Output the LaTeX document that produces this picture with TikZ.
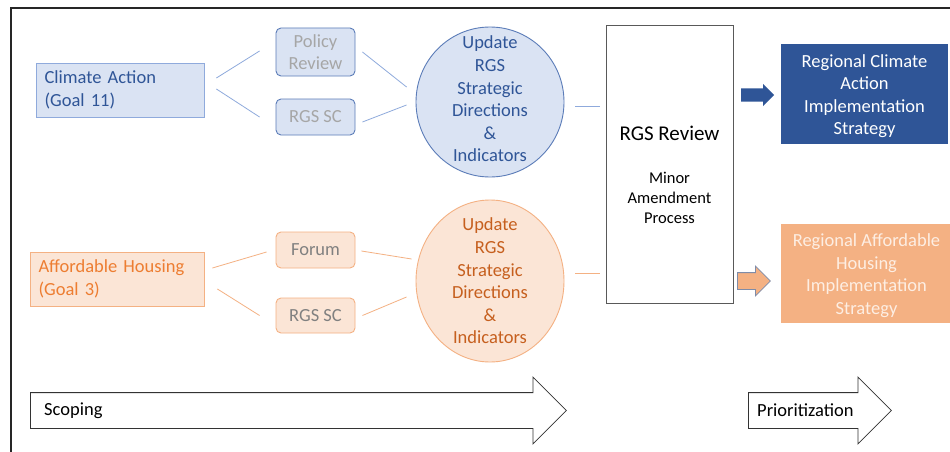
\documentclass[tikz,border=0pt]{standalone}
\usepackage{fontspec}
\setmainfont{Carlito}
\usetikzlibrary{shapes.geometric,shapes.arrows}
\definecolor{bluefill}{HTML}{DAE3F3}
\definecolor{blueline}{HTML}{8FAADC}
\definecolor{blueedge}{HTML}{5B7CB8}
\definecolor{bluetext}{HTML}{2F5597}
\definecolor{bluedark}{HTML}{2F5597}
\definecolor{orangefill}{HTML}{FBE5D6}
\definecolor{orangeline}{HTML}{F4B183}
\definecolor{orangetext}{HTML}{ED7D31}
\definecolor{orangedark}{HTML}{C65F1E}
\definecolor{orangelight}{HTML}{FDEEE3}
\definecolor{arrowedge}{HTML}{7F8CA8}
\colorlet{greytext}{black!35}
\colorlet{forumtext}{black!50}
\colorlet{reviewedge}{black!65}
\newcommand\diafont{\fontsize{18.5pt}{22.6pt}\selectfont}

\begin{document}
\begin{tikzpicture}[x=1pt,y=-1pt,
    txt/.style={font=\diafont, align=center, inner sep=0pt},
    goalbox/.style={draw, line width=0.8pt, minimum height=54pt, inner xsep=8.5pt, inner ysep=0pt, align=left, font=\diafont},
    subbox/.style={draw=blueedge, fill=bluefill, rounded corners=5pt, line width=0.9pt, minimum width=79pt, inner sep=0pt, font=\diafont, align=center, text=greytext},
    updell/.style={ellipse, line width=0.9pt, minimum width=148pt, inner sep=0pt},
    stratbox/.style={minimum height=100pt, inner sep=0pt, align=center, font=\diafont},
    phase/.style={single arrow, draw=black!80, fill=white, line width=0.8pt, inner sep=0pt, single arrow head extend=15.5pt, anchor=tail},
    link/.style={line width=0.8pt}]
    \fill[white] (0,0) rectangle (950,452);
    \useasboundingbox (0,0) rectangle (950,452);
    \draw[line width=2pt, black!85] (950,8) -- (11,8) -- (11,452);

    % climate action row
    \node[goalbox, draw=blueline, fill=bluefill, text=bluetext, text width=151pt] (climate) at (120,90) {Climate Action\\(Goal 11)};
    \node[subbox, minimum height=48pt] (policy) at (315.5,52) {Policy\\Review};
    \node[subbox, minimum height=36pt] (sccl) at (315.5,117) {RGS SC};

    % affordable housing row
    \node[goalbox, draw=orangeline, fill=orangefill, text=orangetext, text width=157pt] (housing) at (117,279) {Affordable Housing\\(Goal 3)};
    \node[subbox, draw=orangeline, fill=orangefill, text=forumtext, minimum height=36pt] (forum) at (315.5,250) {Forum};
    \node[subbox, draw=orangeline, fill=orangefill, text=forumtext, minimum height=35pt] (scho) at (315.5,315.5) {RGS SC};

    \foreach \n/\y/\h/\ty/\fc/\dc/\tc in {cl/102/150/3/bluefill/blueedge/bluetext, ho/281/162/0/orangefill/orangeline/orangedark}{
        \node[updell, fill=\fc, draw=\dc, minimum height=\h pt] (upd\n) at (490,\y) {};
        \node[txt, text=\tc] at ([yshift=\ty pt]upd\n) {Update\\RGS\\Strategic\\Directions\\\&\\Indicators};
    }

    % review box
    \node[draw=reviewedge, line width=0.9pt, minimum width=127pt, minimum height=278pt] (review) at (669.5,164) {};
    \node[font=\fontsize{21pt}{25pt}\selectfont, inner sep=0pt] (revtitle) at (669.5,133) {RGS Review};
    \node[font=\fontsize{16.5pt}{20pt}\selectfont, align=center, inner sep=0pt] (revsteps) at (669.5,198) {Minor\\Amendment\\Process};

    % strategies
    \node[stratbox, fill=bluedark, text=white, minimum width=167pt] (clstrat) at (864.5,94) {\rule{0pt}{17pt}Regional Climate\\Action\\Implementation\\Strategy};
    \node[stratbox, fill=orangeline, text=orangelight, minimum width=171pt, minimum height=99pt] (hostrat) at (866.5,273.5) {\rule{0pt}{17pt}Regional Affordable\\Housing\\Implementation\\Strategy};
    \node[single arrow, fill=bluedark, inner sep=0pt, minimum height=33pt, single arrow head extend=4.5pt, anchor=tail] (clarrow) at (741,95) {\rule{0pt}{13pt}};
    \node[single arrow, fill=orangeline, draw=arrowedge, line width=0.8pt, inner sep=0pt, minimum height=33pt, single arrow head extend=6.5pt, anchor=tail] (hoarrow) at (737,281) {\rule{0pt}{16pt}};

    % connectors
    \draw[link, blueline] ([xshift=12pt,yshift=12pt]climate.east) -- ([xshift=-16pt,yshift=1pt]policy.west);
    \draw[link, blueline] ([xshift=12pt,yshift=1pt]climate.east) -- ([xshift=-16pt]sccl.west);
    \draw[link, blueline] ([xshift=7pt]policy.east) -- ([xshift=-9pt,yshift=15pt]updcl.west);
    \draw[link, blueline] ([xshift=7pt,yshift=-5pt]sccl.east) -- ([xshift=-9pt,yshift=-3pt]updcl.west);
    \draw[link, orangeline] ([xshift=8pt,yshift=11pt]housing.east) -- ([xshift=-9pt,yshift=-2pt]forum.west);
    \draw[link, orangeline] ([xshift=13pt,yshift=-10pt]housing.east) -- ([xshift=-16pt]scho.west);
    \draw[link, orangeline] ([xshift=6pt,yshift=-1pt]forum.east) -- ([xshift=-4pt,yshift=22pt]updho.west);
    \draw[link, orangeline] ([xshift=7pt]scho.east) -- ([xshift=-9pt,yshift=-16pt]updho.west);
    \foreach \n/\dy/\c in {cl/-4/blueline, ho/8/orangeline}{
        \draw[link, \c] ([xshift=11pt,yshift=\dy pt]upd\n.east) -- ([xshift=-6pt,yshift=\dy pt]review.west |- upd\n.east);
    }

    % phases
    \node[phase, minimum height=536pt] (scoping) at (30,410.5) {\rule{0pt}{35pt}};
    \node[phase, minimum height=143pt] (prio) at (748,410.5) {\rule{0pt}{35pt}};
    \node[font=\diafont, anchor=west, inner sep=0pt] (scopingtxt) at ([xshift=14pt]scoping.tail) {Scoping};
    \node[font=\diafont, anchor=west, inner sep=0pt] (priotxt) at ([xshift=9pt]prio.tail) {Prioritization};
\end{tikzpicture}
\end{document}
